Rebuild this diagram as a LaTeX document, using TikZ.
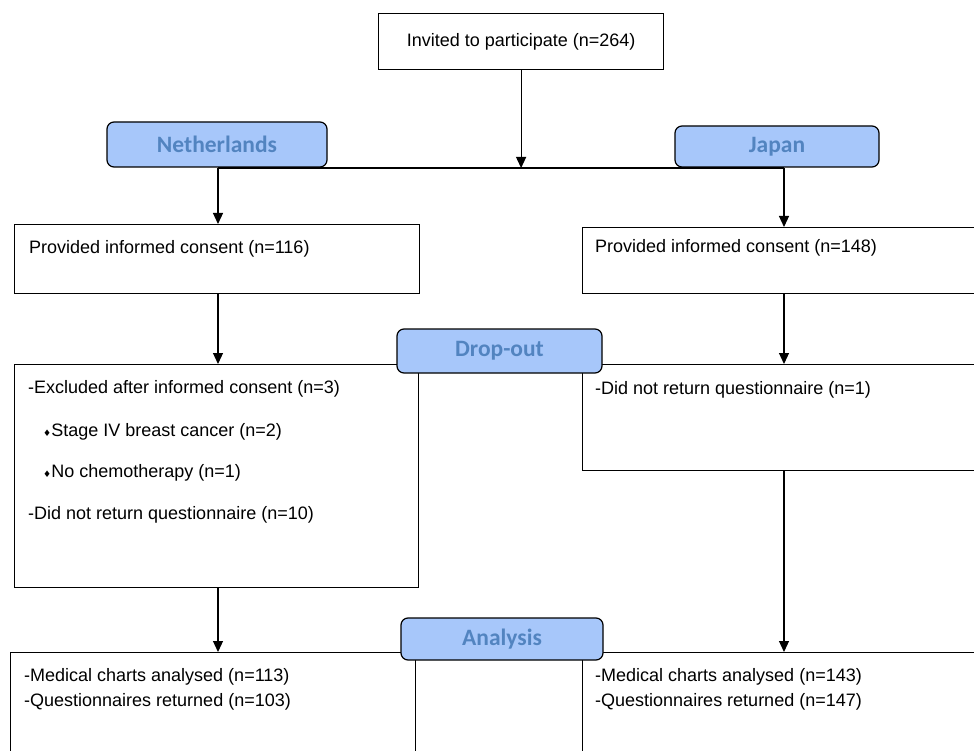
\documentclass[tikz,border=0pt]{standalone}
\usepackage{fontspec}
\setmainfont{Liberation Sans}
\newfontfamily\labfont{Carlito}
\newfontfamily\symfont{DejaVu Sans}
\usetikzlibrary{arrows.meta}
\definecolor{labfill}{RGB}{167,199,250}
\definecolor{labtext}{RGB}{82,132,192}
\newcommand{\bul}{{\symfont\fontsize{9}{9}\selectfont ♦}}
\begin{document}
\begin{tikzpicture}[x=1pt,y=-1pt,
  box/.style={draw=black, line width=1.2pt, rectangle, inner sep=0pt, anchor=north west, fill=white},
  lab/.style={draw=black, line width=1.2pt, fill=labfill, rounded corners=7pt, inner sep=0pt, text=labtext, font=\labfont\bfseries\fontsize{23.5}{26}\selectfont},
  txt/.style={anchor=west, inner sep=0pt, font=\fontsize{18}{22}\selectfont},
  conn/.style={line width=1.2pt},
  arr/.style={conn, -{Triangle[length=11pt,width=10pt]}}]
\useasboundingbox (0,0) rectangle (974,751);
\clip (0,0) rectangle (974,751);
\fill[white] (0,0) rectangle (974,751);

% boxes
\node[box, minimum width=285pt, minimum height=56pt, font=\fontsize{18}{22}\selectfont] (inv) at (378,13) {Invited to participate (n=264)};
\node[box, minimum width=405pt, minimum height=69pt] (pL) at (14,224) {};
\node[box, minimum width=520pt, minimum height=66pt] (pR) at (582,227) {};
\node[box, minimum width=404pt, minimum height=223pt] (exL) at (14,364) {};
\node[box, minimum width=520pt, minimum height=106pt] (exR) at (582,364) {};
\node[box, minimum width=405pt, minimum height=120pt] (anL) at (10,652) {};
\node[box, minimum width=520pt, minimum height=120pt] (anR) at (582,652) {};

% texts
\node[txt] (tpL) at (29,249) {Provided informed consent (n=116)};
\node[txt] (tpR) at (595,248) {Provided informed consent (n=148)};
\node[txt] (te1) at (28,389) {-Excluded after informed consent (n=3)};
\node[txt] (te2) at (43,432) {\bul Stage IV breast cancer (n=2)};
\node[txt] (te3) at (43,473) {\bul No chemotherapy (n=1)};
\node[txt] (te4) at (28,515) {-Did not return questionnaire (n=10)};
\node[txt] (tr1) at (595,390) {-Did not return questionnaire (n=1)};
\node[txt] (ta1) at (24,677) {-Medical charts analysed (n=113)};
\node[txt] (ta2) at (24,702) {-Questionnaires returned (n=103)};
\node[txt] (tb1) at (595,677) {-Medical charts analysed (n=143)};
\node[txt] (tb2) at (595,702) {-Questionnaires returned (n=147)};

% connectors
\coordinate (jn) at (218,168);
\coordinate (jj) at (784,168);
\draw[arr] (inv.south) -- (inv.south |- jn);
\draw[conn] (jn) -- (jj);
\draw[arr] (jn) -- (jn |- pL.north);
\draw[arr] (jj) -- (jj |- pR.north);
\draw[arr] (jn |- pL.south) -- (jn |- exL.north);
\draw[arr] (jj |- pR.south) -- (jj |- exR.north);
\draw[arr] (jn |- exL.south) -- (jn |- anL.north);
\draw[arr] (jj |- exR.south) -- (jj |- anR.north);

% labels
\node[lab, minimum width=220pt, minimum height=45pt] (nl) at (217,144.5) {Netherlands};
\node[lab, minimum width=204pt, minimum height=41pt] (jp) at (777,146.5) {Japan};
\node[lab, minimum width=205pt, minimum height=44pt] (do) at (499.5,351) {Drop-out};
\node[lab, minimum width=202pt, minimum height=42pt] (an) at (502,639) {Analysis};
\end{tikzpicture}
\end{document}
